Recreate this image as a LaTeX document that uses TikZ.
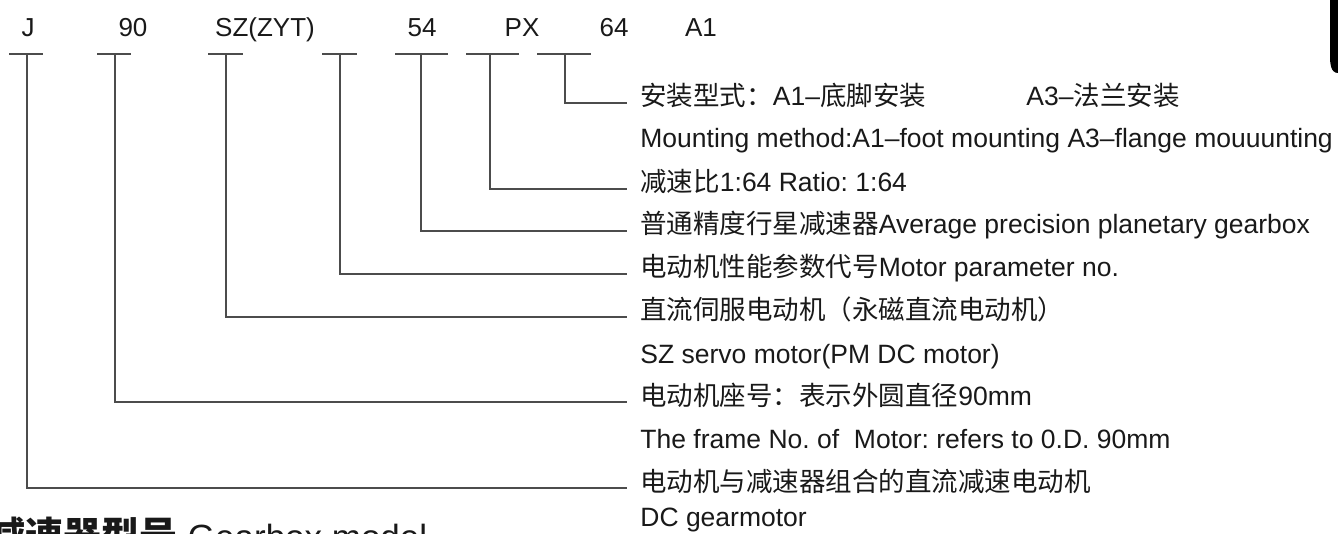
\documentclass[tikz,border=0pt]{standalone}
\usepackage{fontspec}
\setmainfont{Liberation Sans}
\newfontfamily\cjk{Noto Sans CJK SC}
\newcommand{\zh}[1]{{\cjk #1}}
\frenchspacing
\usetikzlibrary{calc}

\begin{document}
\begin{tikzpicture}[x=0.5pt, y=-0.5pt,
    code/.style={font=\fontsize{13}{15}\selectfont, text=black!90, inner sep=0pt, anchor=base},
    desc/.style={font=\fontsize{13.25}{15}\selectfont, text=black!90, inner sep=0pt, anchor=base west},
    title/.style={font=\fontsize{19}{22}\selectfont, text=black!90, inner sep=0pt, anchor=base west},
    link/.style={draw=black!70, line width=1pt}
  ]
    \useasboundingbox (0,0) rectangle (1338,534);
    \clip (0,0) rectangle (1338,534);
    % model code
    \node[code] (cJ) at (28,37) {J};
    \node[code] (c90) at (133,37) {90};
    \node[code] (cSZ) at (265,37) {SZ(ZYT)};
    \node[code] (c54) at (422,37) {54};
    \node[code] (cPX) at (522,37) {PX};
    \node[code] (c64) at (614,37) {64};
    \node[code] (cA1) at (701,37) {A1};
    % explanations
    \node[desc] (mount) at (640,106) {\zh{安装型式：}A1–\zh{底脚安装}};
    \node[desc] (mountB) at (1026,106) {A3–\zh{法兰安装}};
    \node[desc] (mountEn) at (640,148) {Mounting method:A1–foot mounting A3–flange mouuunting};
    \node[desc] (ratio) at (640,192) {\zh{减速比}1:64 Ratio: 1:64};
    \node[desc] (gearbox) at (640,234) {\zh{普通精度行星减速器}Average precision planetary gearbox};
    \node[desc] (param) at (640,277) {\zh{电动机性能参数代号}Motor parameter no.};
    \node[desc] (servo) at (640,320) {\zh{直流伺服电动机（永磁直流电动机）}};
    \node[desc] (servoEn) at (640,363) {SZ servo motor(PM DC motor)};
    \node[desc] (frame) at (640,405) {\zh{电动机座号：表示外圆直径}90mm};
    \node[desc] (frameEn) at (640,448) {The frame No. of\ \ Motor: refers to 0.D. 90mm};
    \node[desc] (dcgear) at (640,491) {\zh{电动机与减速器组合的直流减速电动机}};
    \node[desc] (dcgearEn) at (640,526) {DC gearmotor};
    \node[title] (model) at (-13,549) {\zh{\bfseries 减速器型号} {\fontsize{17.5}{20}\selectfont Gearbox model}};
    % tees under the code
    \coordinate (tJ) at (27,54);
    \coordinate (t90) at (115,54);
    \coordinate (tSZ) at (226,54);
    \coordinate (tPar) at (340,54);
    \coordinate (t54) at (421,54);
    \coordinate (tPX) at (490,54);
    \coordinate (t64) at (565,54);
    \draw[link] (9,54) -- (43,54);
    \draw[link] (97,54) -- (131,54);
    \draw[link] (208,54) -- (243,54);
    \draw[link] (322,54) -- (357,54);
    \draw[link] (395,54) -- (448,54);
    \draw[link] (466,54) -- (519,54);
    \draw[link] (537,54) -- (591,54);
    \draw[link] (t64) |- ($(mount.base west)+(-13,-3)$);
    \draw[link] (tPX) |- ($(ratio.base west)+(-13,-3)$);
    \draw[link] (t54) |- ($(gearbox.base west)+(-13,-3)$);
    \draw[link] (tPar) |- ($(param.base west)+(-13,-3)$);
    \draw[link] (tSZ) |- ($(servo.base west)+(-13,-3)$);
    \draw[link] (t90) |- ($(frame.base west)+(-13,-3)$);
    \draw[link] (tJ) |- ($(dcgear.base west)+(-13,-3)$);
    % corner of the next page
    \fill (1330,0) -- (1330,56) to[out=-90, in=180] (1338,73) -- (1338,0) -- cycle;
  \end{tikzpicture}
\end{document}
